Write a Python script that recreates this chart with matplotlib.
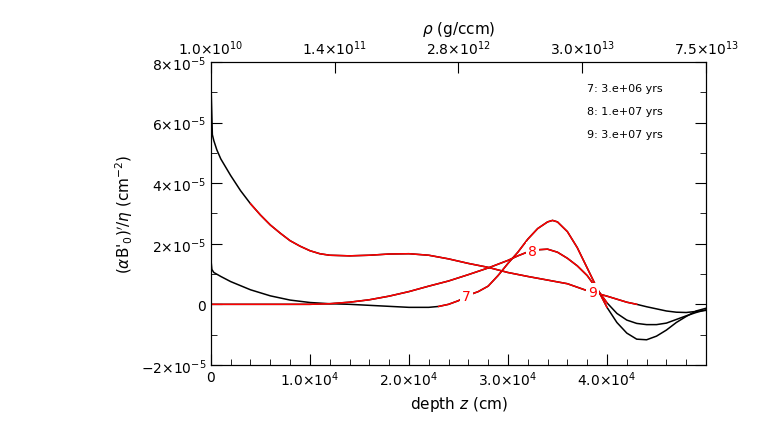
import numpy as np
import matplotlib
matplotlib.use("Agg")
import matplotlib.pyplot as plt

z7 = [0, 100, 300, 1000, 2000, 4000, 6000, 8000, 10000, 12000, 14000, 17000, 20000, 22000, 23000, 24000,
      25000, 26000, 27000, 28000, 29000, 30000, 31000, 32000, 33000, 34000, 34500, 35000, 36000, 37000,
      38000, 39000, 40000, 41000, 42000, 43000, 44000, 45000, 46000, 47000, 48000, 49000, 50000]
y7 = [1.5, 1.15, 1.05, 0.92, 0.75, 0.48, 0.28, 0.14, 0.06, 0.02, 0.0, -0.05, -0.1, -0.1, -0.07, 0.0,
      0.12, 0.3, 0.42, 0.6, 0.95, 1.35, 1.72, 2.15, 2.5, 2.72, 2.77, 2.72, 2.4, 1.87,
      1.2, 0.53, -0.1, -0.6, -0.95, -1.15, -1.17, -1.05, -0.85, -0.6, -0.4, -0.22, -0.13]

z8 = [0, 5000, 10000, 12000, 14000, 16000, 18000, 20000, 22000, 24000, 26000, 28000, 30000, 31000,
      32000, 33000, 34000, 35000, 36000, 37000, 38000, 39000, 40000, 41000, 42000, 43000, 44000, 45000,
      46000, 47000, 48000, 49000, 50000]
y8 = [0, 0, 0, 0.02, 0.07, 0.15, 0.27, 0.42, 0.6, 0.77, 0.98, 1.2, 1.45, 1.6,
      1.73, 1.8, 1.82, 1.72, 1.52, 1.27, 0.95, 0.5, 0.05, -0.3, -0.52, -0.63, -0.67, -0.67, -0.62,
      -0.5, -0.38, -0.27, -0.18]

z9 = [0, 50, 150, 300, 600, 1000, 2000, 3000, 4000, 5000, 6000, 7000, 8000, 9000, 10000, 11000, 12000,
      14000, 16000, 18000, 20000, 22000, 24000, 26000, 28000, 30000, 32000, 34000, 36000, 38000, 40000,
      42000, 43000, 44000, 46000, 47000, 48000, 50000]
y9 = [7.5, 6.8, 5.6, 5.4, 5.1, 4.8, 4.25, 3.75, 3.32, 2.95, 2.62, 2.35, 2.1, 1.92, 1.77, 1.67, 1.62,
      1.6, 1.62, 1.66, 1.67, 1.62, 1.5, 1.35, 1.22, 1.05, 0.92, 0.8, 0.68, 0.45, 0.27,
      0.07, 0.0, -0.08, -0.22, -0.26, -0.27, -0.2]

curves = [("7", z7, y7, 23000, 40000, 25800),
          ("8", z8, y8, 0, 40000, 32500),
          ("9", z9, y9, 3600, 43000, 38500)]

xticks = [0, 10000, 20000, 30000, 40000]
xticklabels = ["0", r"1.0$\times$10$^4$", r"2.0$\times$10$^4$", r"3.0$\times$10$^4$", r"4.0$\times$10$^4$"]
yticks = [-2e-5, 0, 2e-5, 4e-5, 6e-5, 8e-5]
yticklabels = [r"$-$2$\times$10$^{-5}$", "0", r"2$\times$10$^{-5}$", r"4$\times$10$^{-5}$",
               r"6$\times$10$^{-5}$", r"8$\times$10$^{-5}$"]
rho_pos = [0, 12500, 25000, 37500, 50000]
rho_labels = [r"1.0$\times$10$^{10}$", r"1.4$\times$10$^{11}$", r"2.8$\times$10$^{12}$",
              r"3.0$\times$10$^{13}$", r"7.5$\times$10$^{13}$"]
legend_lines = ["7: 3.e+06 yrs", "8: 1.e+07 yrs", "9: 3.e+07 yrs"]

fig = plt.figure(figsize=(7.81, 4.31), dpi=100)
ax = fig.add_axes([0.270, 0.151, 0.634, 0.703])
for name, z, y, r0, r1, zl in curves:
    z = np.array(z, float); y = np.array(y) * 1e-5
    ax.plot(z, y, color="black", lw=1.1)
    m = (z >= r0) & (z <= r1)
    ax.plot(z[m], y[m], color="red", lw=1.1)
    yl = np.interp(zl, z, y)
    ax.text(zl, yl, name, color="red", fontsize=10, ha="center", va="center",
            bbox=dict(facecolor="white", edgecolor="none", pad=1.5))

ax.set_xlim(0, 50000)
ax.set_ylim(-2e-5, 8e-5)
ax.set_xticks(xticks); ax.set_xticklabels(xticklabels, fontsize=10)
ax.set_xticks(np.arange(0, 50001, 2000), minor=True)
ax.set_yticks(yticks); ax.set_yticklabels(yticklabels, fontsize=10)
ax.set_yticks(np.arange(-2e-5, 8.01e-5, 1e-5), minor=True)
ax.tick_params(which="both", direction="in", top=False, right=True)
ax.tick_params(which="major", length=8)
ax.tick_params(which="minor", length=4)
ax.set_xlabel(r"depth $z$ (cm)", fontsize=11)
ax.set_ylabel(r"($\alpha$B$'_0$)$'$/$\eta$ (cm$^{-2}$)", fontsize=11)

top = ax.twiny()
top.set_xlim(0, 50000)
top.set_xticks(rho_pos); top.set_xticklabels(rho_labels, fontsize=10)
top.tick_params(direction="in", length=8)
top.set_xlabel(r"$\rho$ (g/ccm)", fontsize=11)

for i, t in enumerate(legend_lines):
    ax.text(0.76, 0.905 - i * 0.077, t, transform=ax.transAxes, fontsize=8)

fig.savefig("out.png", dpi=100)
